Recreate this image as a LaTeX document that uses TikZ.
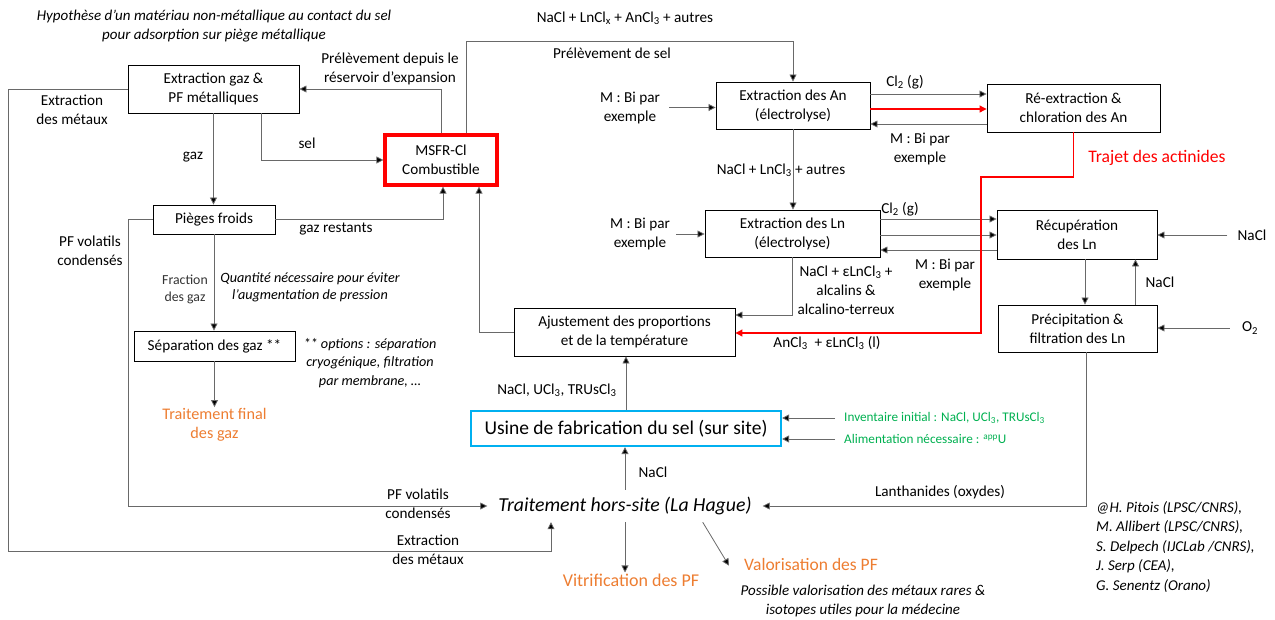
\documentclass[tikz,border=0pt]{standalone}
\usepackage{fontspec}
\setmainfont{Carlito}
\usetikzlibrary{arrows.meta,calc}
\definecolor{lc}{RGB}{105,105,105}
\definecolor{orng}{RGB}{237,125,49}
\definecolor{grn}{RGB}{0,176,80}
\definecolor{cyn}{RGB}{0,176,240}
\definecolor{rd}{RGB}{255,0,0}
\newcommand{\sbs}[1]{\textsubscript{#1}}
\begin{document}
\begin{tikzpicture}[x=1pt,y=-1pt,font=\fontsize{15.2}{19}\selectfont,
  box/.style={draw=black,line width=0.9pt,fill=white,align=center,inner sep=2pt},
  conn/.style={draw=lc,line width=0.8pt},
  arr/.style={conn,-{Triangle[length=7pt,width=7pt,fill=black]}},
  redarr/.style={draw=rd,line width=1.05pt,-{Triangle[length=7pt,width=7pt,fill=rd]}},
  lbl/.style={align=center,inner sep=1pt},
  itl/.style={lbl,font=\fontsize{15}{19}\selectfont\itshape},
  org/.style={lbl,text=orng,font=\fontsize{17.5}{21}\selectfont},
  grl/.style={anchor=west,inner sep=1pt,text=grn,font=\fontsize{13.2}{17}\selectfont}]
\useasboundingbox (0,0) rectangle (1275,619);
% boxes
\node[box,minimum width=171pt,minimum height=48pt] (egaz) at (213.5,89) {Extraction gaz \&\\PF métalliques};
\node[box,draw=rd,line width=3.2pt,minimum width=112pt,minimum height=50pt] (msfr) at (441,160) {MSFR-Cl\\Combustible};
\node[box,minimum width=122pt,minimum height=29pt] (pieges) at (214,219.5) {Pièges froids};
\node[box,minimum width=161pt,minimum height=30pt] (sep) at (214.5,346) {Séparation des gaz **};
\node[box,minimum width=154pt,minimum height=47pt] (an) at (793,105.5) {Extraction des An\\(électrolyse)};
\node[box,minimum width=173pt,minimum height=48pt] (reex) at (1073.5,108) {Ré-extraction \&\\chloration des An};
\node[box,minimum width=175pt,minimum height=47pt] (ln) at (792.5,233.5) {Extraction des Ln\\(électrolyse)};
\node[box,minimum width=160pt,minimum height=49pt] (recup) at (1077,234.5) {Récupération\\des Ln};
\node[box,minimum width=159pt,minimum height=47pt] (precip) at (1077.5,328.5) {Précipitation \&\\filtration des Ln};
\node[box,minimum width=221pt,minimum height=48pt] (ajust) at (624.5,332) {Ajustement des proportions\\et de la température};
\node[box,draw=cyn,line width=2.2pt,minimum width=310pt,minimum height=35pt,font=\fontsize{19.5}{23}\selectfont] (usine) at (626,428.5) {Usine de fabrication du sel (sur site)};
\node[minimum width=275pt,minimum height=32pt,inner sep=0pt,font=\fontsize{19.8}{23}\selectfont\itshape] (trait) at (625,506) {Traitement hors-site (La Hague)};
% outputs / free texts
\node[org,font=\fontsize{16.2}{19.5}\selectfont] (fingaz) at (214.5,425) {Traitement final\\des gaz};
\node[org,font=\fontsize{18}{21}\selectfont] (vitrif) at (631,580) {Vitrification des PF};
\node[org] (valo) at (811,564) {Valorisation des PF};
\node[lbl,inner xsep=9pt] (mbi1) at (630,107.5) {M : Bi par\\exemple};
\node[lbl,inner xsep=6pt] (mbi2) at (640,234) {M : Bi par\\exemple};
\node[lbl,inner xsep=10pt] (nacl1) at (1252,235) {NaCl};
\node[lbl,inner xsep=12pt] (o2) at (1250,328) {O\sbs{2}};
\node[grl] (inv) at (835,418) {\hspace{8pt}Inventaire initial : NaCl, UCl\sbs{3}, TRUsCl\sbs{3}};
\node[grl] (alim) at (835,439) {\hspace{8pt}Alimentation nécessaire : \textsuperscript{app}U};
% connectors
\draw[arr] (msfr.north) |- (egaz.east);
\draw[arr] ([xshift=25pt]msfr.north) -- ([xshift=25pt]msfr.north |- 0,41) -| (an.north);
\draw[arr] (egaz.south) -- (egaz.south |- pieges.north);
\draw[arr] ([xshift=47.5pt]egaz.south) |- (msfr.west);
\draw[arr] (egaz.west) -- (8,89) -- (8,551) -| ([xshift=-74pt]trait.south);
\draw[arr] (pieges.east) -| ([xshift=2pt]msfr.south);
\draw[arr] (pieges.south) -- (pieges.south |- sep.north);
\draw[arr] (pieges.west) -- (128,219.5) |- (trait.west);
\draw[arr] (sep.south) -- (sep.south |- fingaz.north);
\draw[arr] (an.south) -- (an.south |- ln.north);
\draw[arr] (mbi1.east) -- (an.west |- mbi1.east);
\draw[arr] (mbi2.east) -- (ln.west |- mbi2.east);
\draw[arr] (an.east |- 0,94) -- (reex.west |- 0,94);
\draw[arr] (reex.west |- 0,124) -- (an.east |- 0,124);
\draw[arr] (ln.south) -- (ln.south |- 0,315) -- (ajust.east |- 0,315);
\draw[arr] (ln.east |- 0,219) -- (recup.west |- 0,219);
\draw[arr] (ln.east |- 0,235) -- (recup.west |- 0,235);
\draw[arr] (recup.west |- 0,250) -- (ln.east |- 0,250);
\draw[arr] ([xshift=8pt]recup.south) -- ([xshift=8pt]recup.south |- precip.north);
\draw[arr] ([xshift=58pt]precip.north) -- ([xshift=58pt]precip.north |- recup.south);
\draw[arr] (nacl1.west) -- (recup.east |- nacl1.west);
\draw[arr] (o2.west) -- (precip.east |- o2.west);
\draw[arr] ([xshift=8.5pt]precip.south) |- (trait.east);
\draw[arr] (ajust.west) -| ([xshift=38pt]msfr.south);
\draw[arr] (usine.north) -- (usine.north |- ajust.south);
\draw[arr] (inv.west) -- (usine.east |- inv.west);
\draw[arr] (alim.west) -- (usine.east |- alim.west);
\draw[arr] (trait.north) -- (trait.north |- usine.south);
\draw[arr] (trait.south) -- (trait.south |- vitrif.north);
\draw[arr] ([xshift=-60pt]trait.south east) -- ([xshift=-14pt,yshift=-9pt]valo.north west);
% red connectors (actinide path)
\draw[redarr] (an.east |- 0,109) -- (reex.west |- 0,109);
\draw[redarr] (reex.south) -- (reex.south |- 0,177) -| (981,333) -- (ajust.east |- 0,333);
% labels
\node[itl] (hyp) at (214,26.5) {Hypothèse d’un matériau non-métallique au contact du sel\\pour adsorption sur piège métallique};
\node[lbl] (lprel) at (390,69) {Prélèvement depuis le\\réservoir d’expansion};
\node[lbl] (lextr) at (72,109.5) {Extraction\\des métaux};
\node[lbl] (lsel) at (307,143) {sel};
\node[lbl] (lgaz) at (193,157) {gaz};
\node[lbl] (lrest) at (336,229) {gaz restants};
\node[lbl] (lpfv) at (90,251) {PF volatils\\condensés};
\node[lbl,font=\fontsize{13.8}{17.5}\selectfont,text=black!80] (lfrac) at (185,289.5) {Fraction\\des gaz};
\node[itl,font=\fontsize{14.2}{17.5}\selectfont\itshape] (lqte) at (310,287.5) {Quantité nécessaire pour éviter\\l’augmentation de pression};
\node[itl,font=\fontsize{14.2}{18.5}\selectfont\itshape] (lopt) at (370,363) {** options : séparation\\cryogénique, filtration\\par membrane, …};
\node[lbl] (lnacl1) at (625,18) {NaCl + LnCl\sbs{x} + AnCl\sbs{3} + autres};
\node[lbl] (lprel2) at (612,53) {Prélèvement de sel};
\node[lbl] (lcl1) at (905,82) {Cl\sbs{2} (g)};
\node[lbl] (lmbi3) at (920,148.5) {M : Bi par\\exemple};
\node[lbl,text=rd,font=\fontsize{17.6}{21}\selectfont] (ltraj) at (1157,158) {Trajet des actinides};
\node[lbl] (lnacl2) at (781,170) {NaCl + LnCl\sbs{3} + autres};
\node[lbl] (lcl2) at (900,209) {Cl\sbs{2} (g)};
\node[lbl] (lmbi4) at (945,274.5) {M : Bi par\\exemple};
\node[lbl] (leps) at (846,290) {NaCl + εLnCl\sbs{3} +\\alcalins \&\\alcalino-terreux};
\node[lbl] (lancl) at (827,343) {AnCl\sbs{3}\ \ + εLnCl\sbs{3} (l)};
\node[lbl] (lnacl3) at (1160,282) {NaCl};
\node[lbl] (lnuc) at (557,390) {NaCl, UCl\sbs{3}, TRUsCl\sbs{3}};
\node[lbl] (lnacl4) at (653,472) {NaCl};
\node[lbl] (lpfv2) at (418,504) {PF volatils\\condensés};
\node[lbl] (lextr2) at (428,549.5) {Extraction\\des métaux};
\node[lbl] (llan) at (940,492) {Lanthanides (oxydes)};
\node[itl] (lposs) at (863,600.5) {Possible valorisation des métaux rares \&\\isotopes utiles pour la médecine};
\node[itl,align=left,anchor=north west,font=\fontsize{15}{19.5}\selectfont\itshape] (lcred) at (1095,500) {@H. Pitois (LPSC/CNRS),\\M. Allibert (LPSC/CNRS),\\S. Delpech (IJCLab /CNRS),\\J. Serp (CEA),\\G. Senentz (Orano)};
\end{tikzpicture}
\end{document}
